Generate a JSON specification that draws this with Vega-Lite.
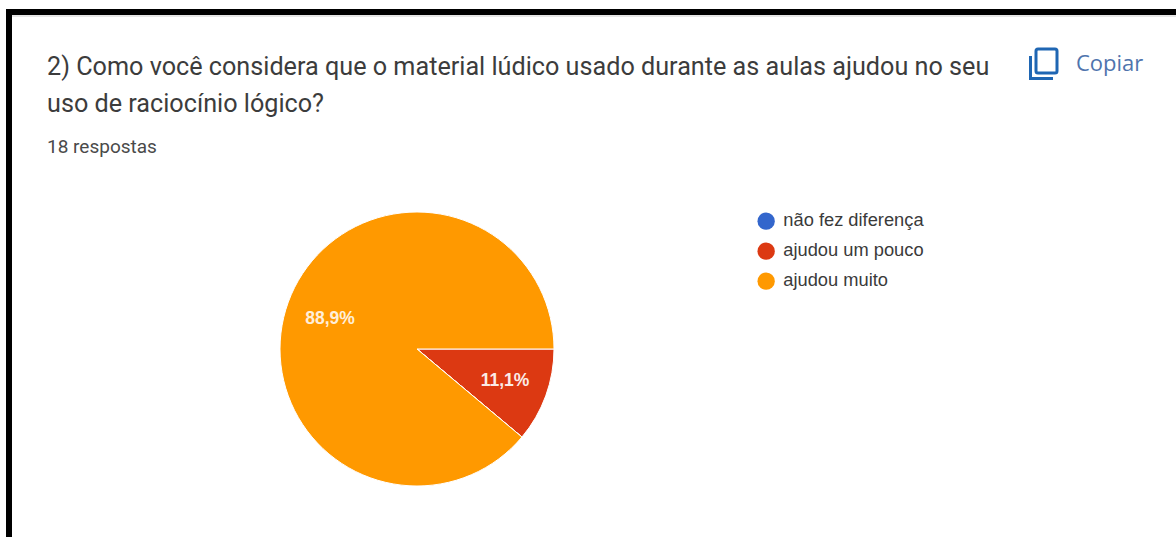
{
"$schema":"https://vega.github.io/schema/vega-lite/v6.json",
"width":1176,"height":537,"autosize":"none","padding":0,"background":"#ffffff",
"config":{"view":{"stroke":null}},
"layer":[
{"data":{"values":[{"part":"top"}]},"mark":{"type":"rect","color":"#000000"},
 "encoding":{"x":{"datum":6,"type":"quantitative","scale":{"domain":[0,1176],"range":[0,1176],"nice":false,"zero":false},"axis":null},"x2":{"datum":1176},"y":{"datum":9,"type":"quantitative","scale":{"domain":[0,537],"range":[0,537],"nice":false,"zero":false},"axis":null},"y2":{"datum":15}}},
{"data":{"values":[{"part":"left"}]},"mark":{"type":"rect","color":"#000000"},
 "encoding":{"x":{"datum":6,"type":"quantitative"},"x2":{"datum":12},"y":{"datum":9,"type":"quantitative"},"y2":{"datum":537}}},
{"data":{"values":[{"part":"shade"}]},"mark":{"type":"rect","color":"#e6e6e6"},
 "encoding":{"x":{"datum":12,"type":"quantitative"},"x2":{"datum":1176},"y":{"datum":15,"type":"quantitative"},"y2":{"datum":17}}},
{"data":{"values":[{"categoria":"ajudou um pouco","respostas":2,"ordem":1},{"categoria":"não fez diferença","respostas":0,"ordem":2},{"categoria":"ajudou muito","respostas":16,"ordem":3}]},
 "mark":{"type":"arc","outerRadius":137,"stroke":"#ffffff","strokeWidth":1},
 "encoding":{"x":{"datum":417,"type":"quantitative"},"y":{"datum":349,"type":"quantitative"},
  "theta":{"field":"respostas","type":"quantitative","stack":true,"scale":{"range":[1.5708,7.854]}},
  "order":{"field":"ordem","type":"quantitative"},
  "color":{"field":"categoria","type":"nominal","scale":{"domain":["não fez diferença","ajudou um pouco","ajudou muito"],"range":["#3366cc","#dc3912","#ff9900"]},
   "legend":{"title":null,"orient":"none","legendX":757,"legendY":212,"symbolType":"circle","symbolSize":300,"symbolStrokeWidth":0,"labelFont":"Liberation Sans","labelFontSize":18.3,"labelColor":"#3a3a3a","labelOffset":8,"rowPadding":11,"labelLimit":300}}}},
{"data":{"values":[{"t":"88,9%"}]},"mark":{"type":"text","font":"Liberation Sans","fontSize":17.5,"fontWeight":"bold","color":"#ffffff","opacity":0.85,"align":"center","baseline":"middle"},
 "encoding":{"x":{"datum":330,"type":"quantitative"},"y":{"datum":319,"type":"quantitative"},"text":{"field":"t"}}},
{"data":{"values":[{"t":"11,1%"}]},"mark":{"type":"text","font":"Liberation Sans","fontSize":17.5,"fontWeight":"bold","color":"#ffffff","opacity":0.9,"align":"center","baseline":"middle"},
 "encoding":{"x":{"datum":505,"type":"quantitative"},"y":{"datum":381,"type":"quantitative"},"text":{"field":"t"}}},
{"data":{"values":[{"t":"2) Como você considera que o material lúdico usado durante as aulas ajudou no seu"}]},"mark":{"type":"text","font":"Roboto","fontSize":25.2,"color":"#3c3c3c","align":"left","baseline":"alphabetic"},
 "encoding":{"x":{"datum":47,"type":"quantitative"},"y":{"datum":75,"type":"quantitative"},"text":{"field":"t"}}},
{"data":{"values":[{"t":"uso de raciocínio lógico?"}]},"mark":{"type":"text","font":"Roboto","fontSize":25.2,"color":"#3c3c3c","align":"left","baseline":"alphabetic"},
 "encoding":{"x":{"datum":47,"type":"quantitative"},"y":{"datum":112,"type":"quantitative"},"text":{"field":"t"}}},
{"data":{"values":[{"t":"18 respostas"}]},"mark":{"type":"text","font":"Roboto","fontSize":19,"color":"#4a4a4a","align":"left","baseline":"alphabetic"},
 "encoding":{"x":{"datum":47,"type":"quantitative"},"y":{"datum":153,"type":"quantitative"},"text":{"field":"t"}}},
{"data":{"values":[{"t":"Copiar"}]},"mark":{"type":"text","font":"Open Sans","fontSize":22,"fontWeight":500,"color":"#4f74ad","align":"left","baseline":"alphabetic"},
 "encoding":{"x":{"datum":1076,"type":"quantitative"},"y":{"datum":71,"type":"quantitative"},"text":{"field":"t"}}},
{"data":{"values":[{"part":"front"}]},"mark":{"type":"rect","fillOpacity":0,"stroke":"#1f66b3","strokeWidth":3,"cornerRadius":2},
 "encoding":{"x":{"datum":1036,"type":"quantitative"},"x2":{"datum":1057},"y":{"datum":49,"type":"quantitative"},"y2":{"datum":73}}},
{"data":{"values":[{"part":"back-left"}]},"mark":{"type":"rect","color":"#1f66b3"},
 "encoding":{"x":{"datum":1029,"type":"quantitative"},"x2":{"datum":1032},"y":{"datum":56,"type":"quantitative"},"y2":{"datum":80}}},
{"data":{"values":[{"part":"back-bottom"}]},"mark":{"type":"rect","color":"#1f66b3"},
 "encoding":{"x":{"datum":1029,"type":"quantitative"},"x2":{"datum":1053},"y":{"datum":77,"type":"quantitative"},"y2":{"datum":80}}}
]
}
